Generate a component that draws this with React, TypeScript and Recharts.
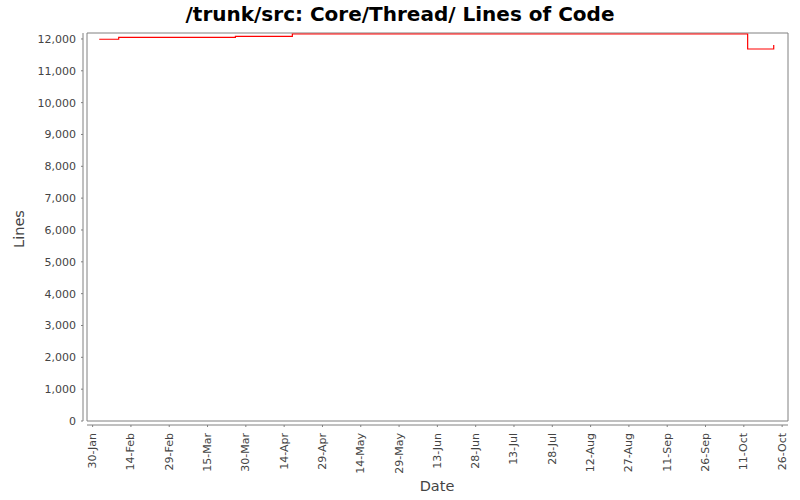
import React from 'react';
import { LineChart, Line, XAxis, YAxis, ReferenceArea } from 'recharts';

// commit dates and total lines at that point
const commitDates = [
  '2008-02-01T14:00',
  '2008-02-09T05:00',
  '2008-03-25T22:00',
  '2008-04-17T05:00',
  '2008-10-12T12:00',
  '2008-10-22T17:00',
];
const lineCounts = [11990, 12049, 12081, 12156, 11685, 11810];

const tickDates = [
  '2008-01-30', '2008-02-14', '2008-02-29', '2008-03-15', '2008-03-30',
  '2008-04-14', '2008-04-29', '2008-05-14', '2008-05-29', '2008-06-13',
  '2008-06-28', '2008-07-13', '2008-07-28', '2008-08-12', '2008-08-27',
  '2008-09-11', '2008-09-26', '2008-10-11', '2008-10-26',
];
const yTicks = [0, 1000, 2000, 3000, 4000, 5000, 6000, 7000, 8000, 9000, 10000, 11000, 12000];
const MONTHS = ['Jan', 'Feb', 'Mar', 'Apr', 'May', 'Jun', 'Jul', 'Aug', 'Sep', 'Oct', 'Nov', 'Dec'];

const ORIGIN = Date.UTC(2008, 0, 30);
const toDay = (s: string) => (Date.parse(s.length > 10 ? s + 'Z' : s + 'T00:00Z') - ORIGIN) / 86400000;

const data = commitDates.map((d, i) => ({ t: toDay(d), lines: lineCounts[i] }));
const xTicks = tickDates.map(toDay);
const X_MIN = -2.2;
const X_MAX = 272.3;
const Y_MAX = 12187;

const FONT = '"DejaVu Sans", sans-serif';
const GRAY = '#808080';
const TEXT = '#444444';

function fmtDay(v: number) {
  const d = new Date(ORIGIN + Math.round(v) * 86400000);
  return `${d.getUTCDate()}-${MONTHS[d.getUTCMonth()]}`;
}

const XTick = (props: any) => {
  const { x, y, payload } = props;
  return (
    <text
      x={x}
      y={y}
      transform={`rotate(-90 ${x} ${y})`}
      textAnchor="end"
      dominantBaseline="central"
      fontSize={11}
      fontFamily={FONT}
      fill={TEXT}
    >
      {fmtDay(payload.value)}
    </text>
  );
};

export default function App() {
  return (
    <div style={{ position: 'absolute', left: 0, top: 0, width: 800, height: 500, background: '#fff' }}>
      <svg width={800} height={30} style={{ position: 'absolute', left: 0, top: 0 }}>
        <text x={400} y={21} textAnchor="middle" fontSize={20} fontWeight="bold" fontFamily={FONT} fill="#000">
          /trunk/src: Core/Thread/ Lines of Code
        </text>
      </svg>
      <LineChart width={800} height={500} data={data} margin={{ top: 33, right: 12, left: 0, bottom: 0 }}>
        <XAxis
          dataKey="t"
          type="number"
          domain={[X_MIN, X_MAX]}
          ticks={xTicks}
          interval={0}
          height={79}
          tickSize={2}
          tickMargin={10}
          axisLine={{ stroke: GRAY, transform: 'translate(0,4)' }}
          tickLine={{ stroke: GRAY, transform: 'translate(0,4)' }}
          tick={<XTick />}
          allowDataOverflow
          label={{
            content: () => (
              <text x={437} y={491} textAnchor="middle" fontSize={14.5} fontFamily={FONT} fill={TEXT}>
                Date
              </text>
            ),
          }}
        />
        <YAxis
          type="number"
          domain={[0, Y_MAX]}
          ticks={yTicks}
          interval={0}
          width={87}
          tickSize={2}
          tickMargin={9}
          axisLine={{ stroke: GRAY, transform: 'translate(-4,0)' }}
          tickLine={{ stroke: GRAY, transform: 'translate(-4,0)' }}
          tick={{ fontSize: 11, fontFamily: FONT, fill: TEXT }}
          tickFormatter={(v: number) => v.toLocaleString('en-US')}
          allowDataOverflow
          label={{
            content: () => (
              <text
                x={24}
                y={229}
                transform="rotate(-90 24 229)"
                textAnchor="middle"
                fontSize={14.5}
                fontFamily={FONT}
                fill={TEXT}
              >
                Lines
              </text>
            ),
          }}
        />
        <ReferenceArea x1={X_MIN} x2={X_MAX} y1={0} y2={Y_MAX} fill="none" stroke={GRAY} strokeWidth={1} ifOverflow="visible" />
        <Line
          type="stepAfter"
          dataKey="lines"
          stroke="#ff0000"
          strokeWidth={1.2}
          dot={false}
          isAnimationActive={false}
        />
      </LineChart>
    </div>
  );
}
